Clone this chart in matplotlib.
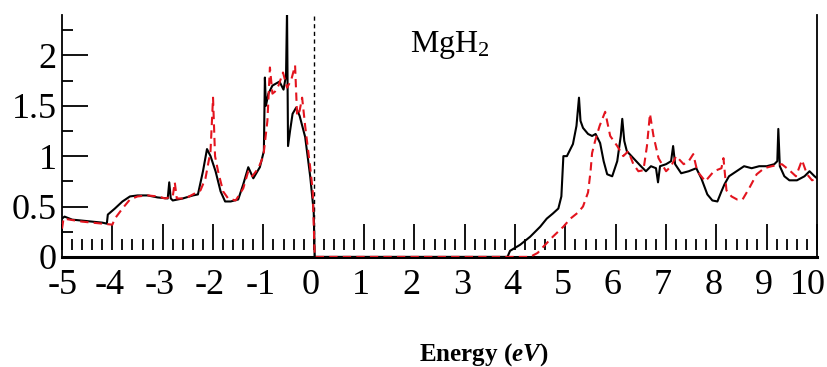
import matplotlib
matplotlib.use("Agg")
import matplotlib.pyplot as plt
import matplotlib.ticker as ticker
from matplotlib.transforms import ScaledTranslation

# Black solid curve (energy in eV, DOS)
black_E = [-5.00, -4.95, -4.80, -4.60, -4.40, -4.20, -4.11, -4.09, -3.95, -3.80,
           -3.65, -3.50, -3.30, -3.10, -2.90, -2.87, -2.84, -2.80, -2.60, -2.40,
           -2.30, -2.20, -2.12, -2.05, -1.95, -1.85, -1.76, -1.65, -1.50, -1.40,
           -1.30, -1.20, -1.07, -0.99, -0.97, -0.95, -0.90, -0.82, -0.75, -0.68,
           -0.60, -0.55, -0.53, -0.51, -0.47, -0.42, -0.35, -0.28, -0.17, -0.07,
           0.00, 0.02, 3.85, 3.90, 4.10, 4.30, 4.50, 4.63, 4.75, 4.86,
           4.92, 4.96, 5.03, 5.15, 5.22, 5.27, 5.30, 5.35, 5.45, 5.53,
           5.60, 5.69, 5.76, 5.83, 5.93, 6.03, 6.10, 6.13, 6.17, 6.22,
           6.35, 6.50, 6.60, 6.70, 6.80, 6.84, 6.88, 7.00, 7.10, 7.14,
           7.18, 7.30, 7.45, 7.60, 7.70, 7.82, 7.92, 8.02, 8.10, 8.16,
           8.25, 8.40, 8.55, 8.70, 8.85, 9.00, 9.15, 9.21, 9.23, 9.26,
           9.35, 9.45, 9.60, 9.75, 9.85, 9.95, 10.0]
black_D = [0.38, 0.40, 0.37, 0.36, 0.35, 0.34, 0.33, 0.42, 0.48, 0.55,
           0.60, 0.61, 0.61, 0.59, 0.58, 0.74, 0.58, 0.56, 0.58, 0.61,
           0.62, 0.85, 1.07, 1.00, 0.85, 0.65, 0.55, 0.55, 0.57, 0.72,
           0.89, 0.78, 0.89, 1.05, 1.78, 1.50, 1.62, 1.70, 1.72, 1.74,
           1.66, 1.80, 2.45, 1.10, 1.25, 1.42, 1.48, 1.40, 1.19, 0.80,
           0.45, 0.00, 0.00, 0.06, 0.12, 0.20, 0.30, 0.38, 0.43, 0.48,
           0.60, 1.00, 1.00, 1.12, 1.30, 1.58, 1.35, 1.28, 1.22, 1.20,
           1.22, 1.13, 0.95, 0.82, 0.80, 0.95, 1.20, 1.37, 1.15, 1.05,
           0.98, 0.90, 0.85, 0.90, 0.88, 0.74, 0.90, 0.92, 0.95, 1.10,
           0.92, 0.83, 0.85, 0.88, 0.78, 0.62, 0.56, 0.55, 0.65, 0.72,
           0.80, 0.85, 0.90, 0.88, 0.90, 0.90, 0.92, 0.95, 1.27, 0.90,
           0.80, 0.76, 0.76, 0.80, 0.85, 0.80, 0.78]

# Red dashed curve
red_E = [-5.00, -4.97, -4.85, -4.60, -4.40, -4.20, -4.00, -3.95, -3.80, -3.65,
         -3.50, -3.30, -3.10, -2.95, -2.80, -2.76, -2.72, -2.55, -2.40, -2.25,
         -2.15, -2.05, -2.00, -1.96, -1.90, -1.80, -1.70, -1.55, -1.40, -1.30,
         -1.22, -1.10, -1.00, -0.92, -0.87, -0.82, -0.77, -0.70, -0.61, -0.53,
         -0.45, -0.37, -0.33, -0.28, -0.23, -0.17, -0.07, -0.02, 0.02, 4.30,
         4.45, 4.56, 4.75, 4.96, 5.10, 5.25, 5.35, 5.45, 5.50, 5.53,
         5.59, 5.68, 5.79, 5.89, 6.03, 6.15, 6.25, 6.35, 6.45, 6.55,
         6.62, 6.68, 6.75, 6.85, 7.00, 7.10, 7.20, 7.35, 7.45, 7.54,
         7.62, 7.78, 7.95, 8.10, 8.14, 8.20, 8.30, 8.41, 8.52, 8.65,
         8.80, 8.95, 9.10, 9.30, 9.45, 9.58, 9.70, 9.80, 9.90, 10.0]
red_D = [0.28, 0.38, 0.37, 0.35, 0.34, 0.33, 0.32, 0.38, 0.48, 0.57,
         0.60, 0.61, 0.60, 0.58, 0.60, 0.74, 0.58, 0.58, 0.62, 0.66,
         0.78, 1.05, 1.58, 1.00, 0.85, 0.65, 0.58, 0.56, 0.68, 0.85,
         0.80, 0.88, 1.00, 1.35, 1.88, 1.62, 1.64, 1.70, 1.83, 1.68,
         1.75, 1.90, 1.40, 1.45, 1.58, 1.30, 0.89, 0.66, 0.00, 0.00,
         0.04, 0.10, 0.20, 0.30, 0.38, 0.44, 0.50, 0.64, 0.85, 1.03,
         1.15, 1.30, 1.44, 1.20, 1.10, 1.00, 1.05, 0.92, 0.85, 0.86,
         1.10, 1.42, 1.20, 0.98, 0.85, 0.90, 1.00, 0.92, 0.95, 1.02,
         0.85, 0.75, 0.85, 0.88, 0.98, 0.66, 0.60, 0.57, 0.57, 0.68,
         0.82, 0.88, 0.90, 0.92, 0.86, 0.80, 0.96, 0.82, 0.76, 0.78]

x_ticks = list(range(-5, 11))
y_ticks = [0, 0.5, 1, 1.5, 2]
y_tick_labels = ["0", "0.5", "1", "1.5", "2"]

plt.rcParams['font.family'] = 'Liberation Serif'
plt.rcParams['axes.unicode_minus'] = False
plt.rcParams['mathtext.fontset'] = 'custom'
plt.rcParams['mathtext.rm'] = 'Liberation Serif'
plt.rcParams['mathtext.it'] = 'Liberation Serif:italic:bold'
plt.rcParams['mathtext.bf'] = 'Liberation Serif:bold'

fig = plt.figure(figsize=(8.27, 3.67), dpi=100)
ax = fig.add_axes([0.075, 0.30, 0.913, 0.659])

ax.plot(black_E, black_D, color='black', lw=1.5, zorder=3)
ax.plot(red_E, red_D, color='#e3141e', lw=1.5, ls=(0, (4, 2.5)), zorder=4)

# Fermi level and zero line
ax.axvline(0, color='black', lw=1.0, ls=(0, (3, 2.5)))
ax.axhline(0, color='black', lw=2.2, clip_on=False, zorder=2)

ax.set_xlim(-5, 10)
ax.set_ylim(0, 2.4)

ax.spines['top'].set_visible(False)
ax.spines['bottom'].set_position(('data', 0.07))
ax.spines['bottom'].set_visible(False)
ax.spines['left'].set_linewidth(1.3)
ax.spines['right'].set_linewidth(1.3)

ax.set_xticks(x_ticks)
ax.set_xticklabels([])
ax.set_yticks(y_ticks)
ax.set_yticklabels(y_tick_labels)
ax.xaxis.set_minor_locator(ticker.MultipleLocator(0.2))
ax.yaxis.set_minor_locator(ticker.MultipleLocator(0.25))

ax.tick_params(which='major', direction='in', length=19, width=1.3, right=False, top=False)
ax.tick_params(which='minor', direction='in', length=8, width=1.3, right=False, top=False)
ax.tick_params(axis='y', labelsize=26, pad=4)

# x tick labels drawn as text so the last one stays inside the figure
for t in x_ticks:
    if t == 10:
        dx = -9
    elif t == -5:
        dx = 1
    else:
        dx = -3
    off = ScaledTranslation(dx / 100, -12 / 100, fig.dpi_scale_trans)
    ax.text(t, 0, str(t), fontsize=26, ha='center', va='top',
            transform=ax.get_xaxis_transform() + off)

ax.text(2.7, 2.1, r"MgH$_\mathrm{2}$", fontsize=23, ha='center', va='center')

fig.text(484 / 827, 1 - 355 / 367, r"Energy ($eV$)", fontsize=18,
         fontweight='bold', ha='center', va='center')

fig.savefig("out.png", dpi=100)
